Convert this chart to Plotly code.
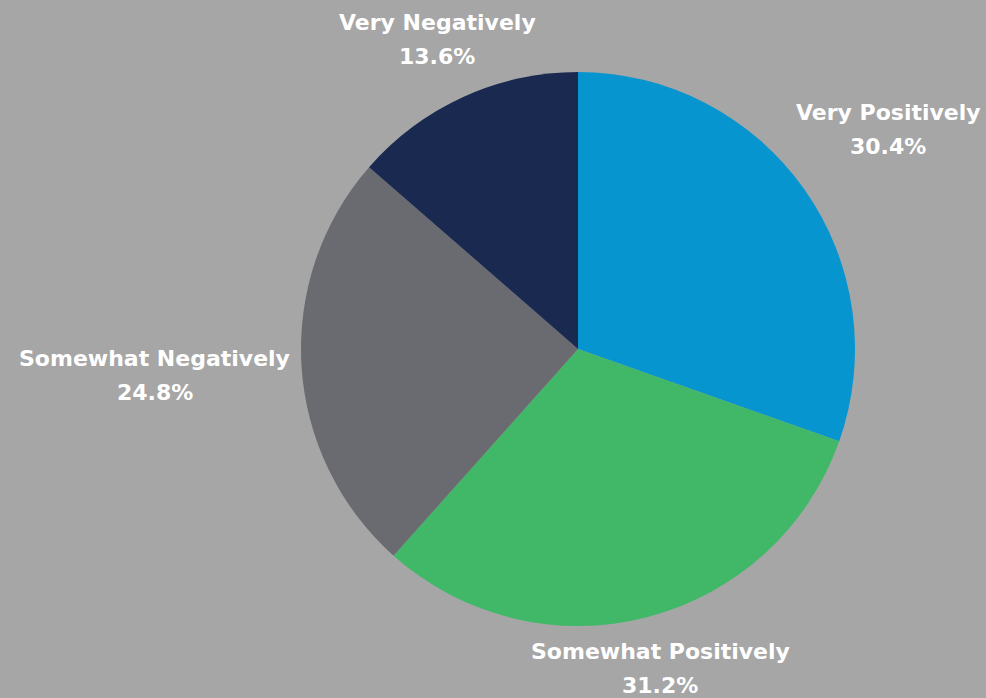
import math
import plotly.graph_objects as go

labels = ["Very Positively", "Somewhat Positively", "Somewhat Negatively", "Very Negatively"]
values = [30.4, 31.2, 24.8, 13.6]
colors = ["#0795D0", "#40B868", "#6A6B70", "#1A294F"]

W, H = 986, 698
cx, cy, R = 578, 349, 277          # pie centre and radius in pixels
FONT = dict(color="white", size=22, family="DejaVu Sans")

fig = go.Figure(go.Pie(
    labels=labels, values=values, sort=False, direction="clockwise", rotation=0,
    marker=dict(colors=colors, line=dict(width=0)),
    textinfo="none",
    domain=dict(x=[(cx - R) / W, (cx + R) / W], y=[(H - cy - R) / H, (H - cy + R) / H]),
    showlegend=False, hoverinfo="label+percent",
))

# outside labels positioned along each slice's mid-angle
total = sum(values)
cum = 0.0
annotations = []
for lab, v in zip(labels, values):
    mid = (cum + v / 2) / total * 2 * math.pi
    cum += v
    s, c = math.sin(mid), math.cos(mid)
    hw = len(lab) * 0.6 * FONT["size"] / 2
    rho = R + 22 + hw * abs(s)
    px, py = cx + s * rho, cy - c * rho
    xp, yp = px / W, 1 - py / H
    pct = v / total * 100
    annotations.append(dict(x=xp, y=yp, xref="paper", yref="paper", text=f"<b>{lab}</b>",
                            showarrow=False, font=FONT, xanchor="center", yanchor="middle", yshift=17))
    annotations.append(dict(x=xp, y=yp, xref="paper", yref="paper", text=f"<b>{pct:.1f}%</b>",
                            showarrow=False, font=FONT, xanchor="center", yanchor="middle", yshift=-17))

fig.update_layout(width=W, height=H, margin=dict(l=0, r=0, t=0, b=0),
                  paper_bgcolor="#A6A6A6", plot_bgcolor="#A6A6A6",
                  annotations=annotations)
fig.write_html("out.html")
